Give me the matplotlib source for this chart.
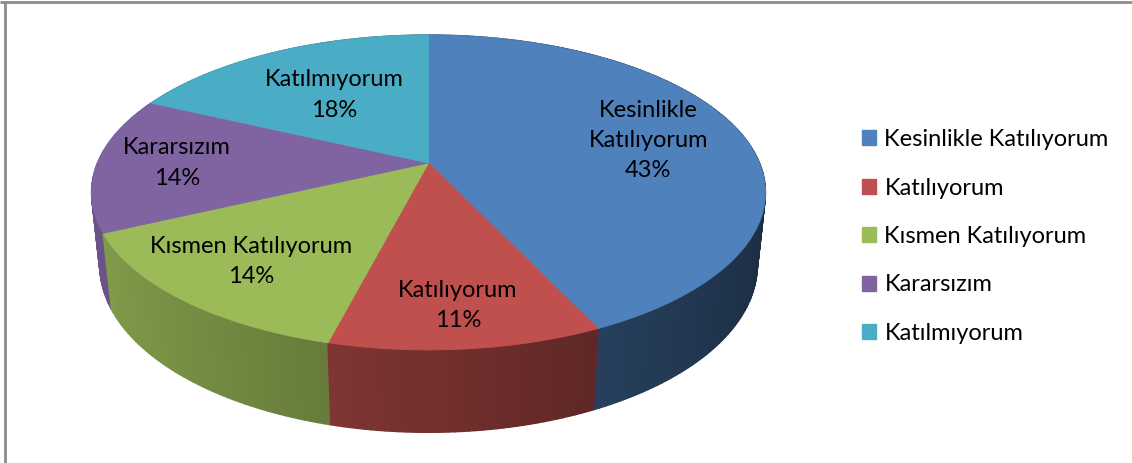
import numpy as np
import matplotlib.pyplot as plt
from matplotlib.patches import Polygon, Patch

# dilimler (saat yönünde, tepeden başlayarak)
kategoriler = ["Kesinlikle Katılıyorum", "Katılıyorum", "Kısmen Katılıyorum",
               "Kararsızım", "Katılmıyorum"]
etiketler = ["Kesinlikle\nKatılıyorum", "Katılıyorum", "Kısmen Katılıyorum",
             "Kararsızım", "Katılmıyorum"]
yuzdeler = [43, 11, 14, 14, 18]
renkler = ["#4F81BD", "#C0504D", "#9BBB59", "#8064A2", "#4BACC6"]
etiket_r = [0.70, 0.80, 0.75, 0.76, 0.58]

plt.rcParams['font.family'] = ['Lato', 'DejaVu Sans']

# 3B görünüm parametreleri (piksel cinsinden)
cx, cy, S = 428.5, 163.0, 331.0
sin_phi = 0.459
cos_phi = np.sqrt(1 - sin_phi ** 2)
D = 4.75
h = 0.25


def proj(t, r=1.0, yw=0.0):
    xw = r * np.cos(t)
    zw = r * np.sin(t)
    up = zw * sin_phi + yw * cos_phi
    w = zw * cos_phi - yw * sin_phi
    s = 1.0 / (1.0 + w / D)
    return cx + S * xw * s, cy - S * up * s, w


def golge(renk, f):
    c = np.array(plt.matplotlib.colors.to_rgb(renk))
    return tuple(np.clip(c * f, 0, 1))


fig = plt.figure(figsize=(11.32, 4.63), dpi=100)
ax = fig.add_axes([0, 0, 1, 1])
ax.set_xlim(0, 1132)
ax.set_ylim(463, 0)
ax.axis('off')

# açı sınırları
kum = np.cumsum([0] + yuzdeler) / 100.0
basla = np.pi / 2 - 2 * np.pi * kum[:-1]
bitis = np.pi / 2 - 2 * np.pi * kum[1:]

# yan duvarlar (uzaktan yakına)
seritler = []
for i in range(len(yuzdeler)):
    n = max(int(abs(bitis[i] - basla[i]) / np.radians(1.0)), 2)
    ts = np.linspace(basla[i], bitis[i], n + 1)
    for a, b in zip(ts[:-1], ts[1:]):
        x1, y1, w1 = proj(a, yw=0)
        x2, y2, w2 = proj(b, yw=0)
        x3, y3, _ = proj(b, yw=-h)
        x4, y4, _ = proj(a, yw=-h)
        tm = (a + b) / 2
        f = 0.60 - 0.25 * np.cos(tm)
        seritler.append(((w1 + w2) / 2, [(x1, y1), (x2, y2), (x3, y3), (x4, y4)],
                         golge(renkler[i], f)))
seritler.sort(key=lambda s: -s[0])
for _, pts, c in seritler:
    ax.add_patch(Polygon(pts, closed=True, facecolor=c, edgecolor=c, lw=1.0))

# üst yüz
for i in range(len(yuzdeler)):
    ts = np.linspace(basla[i], bitis[i], 200)
    xs, ys, _ = proj(ts)
    pts = [(cx, cy)] + list(zip(xs, ys))
    ax.add_patch(Polygon(pts, closed=True, facecolor=renkler[i],
                         edgecolor=renkler[i], lw=0.6))

# veri etiketleri
for i in range(len(yuzdeler)):
    tm = (basla[i] + bitis[i]) / 2
    lx, ly, _ = proj(tm, r=etiket_r[i])
    ax.text(lx, ly, f"{etiketler[i]}\n{yuzdeler[i]}%", ha='center', va='center',
            fontsize=17, color='black', linespacing=1.55)

# lejant
tutamaklar = [Patch(facecolor=c, edgecolor=c) for c in renkler]
ax.legend(tutamaklar, kategoriler, loc='upper left', bbox_to_anchor=(0.7615, 0.721),
          frameon=False, fontsize=17, handlelength=0.6, handleheight=0.6,
          handletextpad=0.35, labelspacing=1.16, borderaxespad=0, borderpad=0)

# çerçeve
ax.plot([0, 1132], [2, 2], color='#8c8c8c', lw=2, solid_capstyle='butt')
ax.plot([5, 5], [2, 463], color='#8c8c8c', lw=2, solid_capstyle='butt')

fig.savefig('out.png', dpi=100)
